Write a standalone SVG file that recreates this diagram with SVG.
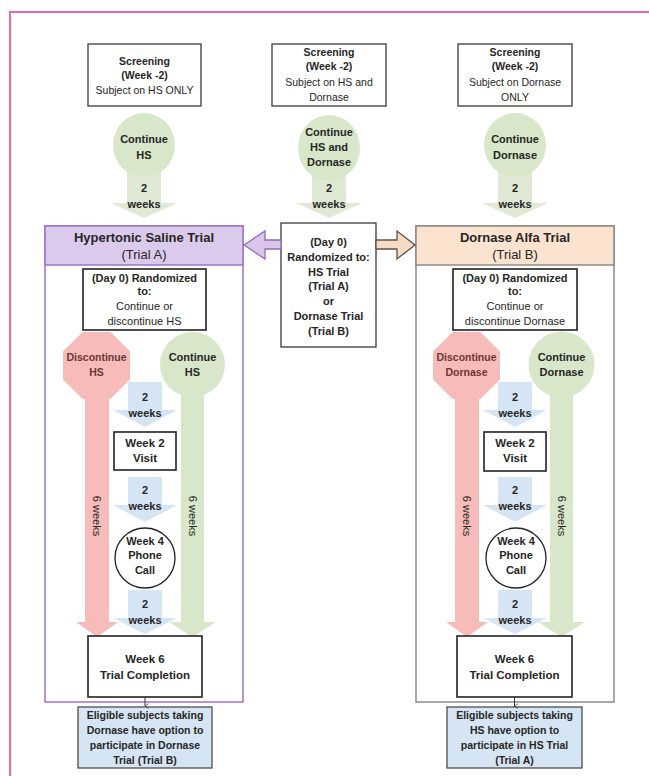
<svg xmlns="http://www.w3.org/2000/svg" width="649" height="776" viewBox="0 0 649 776">
<style>
  text { font-family: "Liberation Sans", Arial, sans-serif; text-anchor: middle; fill: #262626; }
  .b { font-weight: bold; }
  .s105 { font-size: 10.5px; }
  .s11 { font-size: 11px; }
  .s115 { font-size: 11.5px; }
  .s13 { font-size: 13px; }
  .box { fill: #ffffff; stroke: #3a3a3a; stroke-width: 1.3; }
  .dbox { fill: #ffffff; stroke: #222222; stroke-width: 1.6; }
  .green { fill: #d8e6ca; }
  .garrow { fill: #dfe9d3; }
  .red { fill: #f7bcba; }
  .blue { fill: #d6e5f4; }
  .dis { fill: #6e3535; }
  .elig { fill: #d6e5f4; stroke: #4d4d4d; stroke-width: 1.3; }
  .conn { fill: none; stroke: #333333; stroke-width: 1; }
</style>
<defs>
  <marker id="ah" viewBox="0 0 10 10" refX="5" refY="9" markerWidth="8" markerHeight="6" orient="auto-start-reverse" markerUnits="userSpaceOnUse">
    <path d="M1,3 L5,9 L9,3" fill="none" stroke="#333" stroke-width="1.2"/>
  </marker>
</defs>

<rect width="649" height="776" fill="#ffffff"/>
<path d="M10,776 L10,12 L649,12" fill="none" stroke="#e46aac" stroke-width="2"/>

<!-- Screening boxes -->
<g id="screen-hs">
  <rect class="box" x="88" y="44" width="113" height="62"/>
  <text class="b s105" x="144.5" y="65">Screening</text>
  <text class="b s105" x="144.5" y="79">(Week -2)</text>
  <text class="s105" x="144.5" y="94">Subject on HS ONLY</text>
</g>
<g id="screen-both">
  <rect class="box" x="272" y="44" width="114" height="62"/>
  <text class="b s105" x="329" y="56">Screening</text>
  <text class="b s105" x="329" y="70">(Week -2)</text>
  <text class="s105" x="329" y="86">Subject on HS and</text>
  <text class="s105" x="329" y="101">Dornase</text>
</g>
<g id="screen-dor">
  <rect class="box" x="458" y="44" width="114" height="62"/>
  <text class="b s105" x="515" y="56">Screening</text>
  <text class="b s105" x="515" y="70">(Week -2)</text>
  <text class="s105" x="515" y="86">Subject on Dornase</text>
  <text class="s105" x="515" y="101">ONLY</text>
</g>

<!-- Top continue circles with 2-week arrows -->
<g id="cont-hs-top">
  <polygon class="garrow" points="127,170 161,170 161,203 177,203 144,218 111,203 127,203"/>
  <ellipse class="green" cx="144" cy="145" rx="31" ry="32"/>
  <text class="b s11" x="144" y="143">Continue</text>
  <text class="b s11" x="144" y="159">HS</text>
  <text class="b s11" x="144" y="192">2</text>
  <text class="b s11" x="144" y="208">weeks</text>
</g>
<g id="cont-both-top">
  <polygon class="garrow" points="312,172 346,172 346,203 362,203 329,218 296,203 312,203"/>
  <ellipse class="green" cx="329" cy="148" rx="31" ry="33"/>
  <text class="b s11" x="329" y="136">Continue</text>
  <text class="b s11" x="329" y="151">HS and</text>
  <text class="b s11" x="329" y="166">Dornase</text>
  <text class="b s11" x="329" y="192">2</text>
  <text class="b s11" x="329" y="208">weeks</text>
</g>
<g id="cont-dor-top">
  <polygon class="garrow" points="498,170 532,170 532,203 548,203 515,218 482,203 498,203"/>
  <ellipse class="green" cx="515" cy="145" rx="31" ry="32"/>
  <text class="b s11" x="515" y="143">Continue</text>
  <text class="b s11" x="515" y="159">Dornase</text>
  <text class="b s11" x="515" y="192">2</text>
  <text class="b s11" x="515" y="208">weeks</text>
</g>

<!-- Panels -->
<g id="trial-a">
  <rect x="45" y="226" width="198" height="476" fill="#ffffff" stroke="#9b74c4" stroke-width="1.5"/>
  <rect x="45" y="226" width="198" height="39" fill="#dccaec" stroke="#9b74c4" stroke-width="1.5"/>
  <text class="b s13" x="144" y="242">Hypertonic Saline Trial</text>
  <text class="s13" x="144" y="259">(Trial A)</text>
</g>
<g id="trial-b">
  <rect x="416" y="226" width="198" height="476" fill="#ffffff" stroke="#8a8a8a" stroke-width="1.5"/>
  <rect x="416" y="226" width="198" height="39" fill="#fce3cf" stroke="#8a8a8a" stroke-width="1.5"/>
  <text class="b s13" x="515" y="242">Dornase Alfa Trial</text>
  <text class="s13" x="515" y="259">(Trial B)</text>
</g>

<!-- Center randomization box -->
<g id="center-rand">
  <rect class="box" x="281" y="223" width="95" height="124"/>
  <text class="b s11" x="328.5" y="246">(Day 0)</text>
  <text class="b s11" x="328.5" y="261">Randomized to:</text>
  <text class="b s11" x="328.5" y="276">HS Trial</text>
  <text class="b s11" x="328.5" y="290">(Trial A)</text>
  <text class="b s11" x="328.5" y="305">or</text>
  <text class="b s11" x="328.5" y="320">Dornase Trial</text>
  <text class="b s11" x="328.5" y="335">(Trial B)</text>
</g>

<!-- Randomized boxes inside panels -->
<g id="rand-a">
  <rect class="dbox" x="83" y="269" width="123" height="61"/>
  <text class="b s11" x="144.5" y="282">(Day 0) Randomized</text>
  <text class="b s11" x="144.5" y="295">to:</text>
  <text class="s11" x="144.5" y="310">Continue or</text>
  <text class="s11" x="144.5" y="325">discontinue HS</text>
</g>
<g id="rand-b">
  <rect class="dbox" x="453" y="269" width="124" height="61"/>
  <text class="b s11" x="515" y="282">(Day 0) Randomized</text>
  <text class="b s11" x="515" y="295">to:</text>
  <text class="s11" x="515" y="310">Continue or</text>
  <text class="s11" x="515" y="325">discontinue Dornase</text>
</g>

<!-- Trial A arms -->
<g id="disc-hs">
  <polygon class="red" points="85,395 109,395 109,622 118,622 97,637 76,622 85,622"/>
  <polygon class="red" points="82.6,332 110.4,332 130,351.6 130,379.4 110.4,399 82.6,399 63,379.4 63,351.6"/>
  <text class="b s105 dis" x="96.5" y="361">Discontinue</text>
  <text class="b s105 dis" x="96.5" y="376">HS</text>
  <text class="s11" transform="translate(93,516) rotate(90)">6 weeks</text>
</g>
<g id="cont-hs">
  <polygon class="green" points="181,390 204,390 204,622 216,622 192.5,637 169,622 181,622"/>
  <circle class="green" cx="192.5" cy="364.5" r="32.5"/>
  <text class="b s11" x="192.5" y="361">Continue</text>
  <text class="b s11" x="192.5" y="376">HS</text>
  <text class="s11" transform="translate(188.5,516) rotate(90)">6 weeks</text>
</g>

<g id="a-2w-1">
  <polygon class="blue" points="128,382 162,382 162,410 177,410 145,427 113,410 128,410"/>
  <text class="b s11" x="145" y="401">2</text>
  <text class="b s11" x="145" y="417">weeks</text>
</g>
<g id="a-week2">
  <rect class="dbox" x="114" y="432" width="62" height="38"/>
  <text class="b s115" x="145" y="447">Week 2</text>
  <text class="b s115" x="145" y="462">Visit</text>
</g>
<g id="a-2w-2">
  <polygon class="blue" points="128,477 162,477 162,505 177,505 145,522 113,505 128,505"/>
  <text class="b s11" x="145" y="494">2</text>
  <text class="b s11" x="145" y="510">weeks</text>
</g>
<g id="a-week4">
  <circle cx="145" cy="558" r="30" fill="#ffffff" stroke="#222" stroke-width="1.3"/>
  <text class="b s11" x="145" y="545">Week 4</text>
  <text class="b s11" x="145" y="559">Phone</text>
  <text class="b s11" x="145" y="574">Call</text>
</g>
<g id="a-2w-3">
  <polygon class="blue" points="128,590 162,590 162,618 177,618 145,634 113,618 128,618"/>
  <text class="b s11" x="145" y="608">2</text>
  <text class="b s11" x="145" y="624">weeks</text>
</g>
<g id="a-week6">
  <rect class="dbox" x="88" y="636" width="114" height="61"/>
  <text class="b s115" x="145" y="663">Week 6</text>
  <text class="b s115" x="145" y="679">Trial Completion</text>
</g>
<g id="a-eligible">
  <rect class="elig" x="78" y="707" width="134" height="61"/>
  <text class="b s105" x="145" y="719">Eligible subjects taking</text>
  <text class="b s105" x="145" y="734">Dornase have option to</text>
  <text class="b s105" x="145" y="749">participate in Dornase</text>
  <text class="b s105" x="145" y="764">Trial (Trial B)</text>
</g>

<!-- Trial B arms -->
<g id="disc-dor">
  <polygon class="red" points="455,395 479,395 479,622 488,622 467,637 446,622 455,622"/>
  <polygon class="red" points="452.6,332 480.4,332 500,351.6 500,379.4 480.4,399 452.6,399 433,379.4 433,351.6"/>
  <text class="b s105 dis" x="466.5" y="361">Discontinue</text>
  <text class="b s105 dis" x="466.5" y="376">Dornase</text>
  <text class="s11" transform="translate(463,516) rotate(90)">6 weeks</text>
</g>
<g id="cont-dor">
  <polygon class="green" points="550,390 573,390 573,622 585,622 561.5,637 538,622 550,622"/>
  <circle class="green" cx="561.5" cy="364.5" r="33"/>
  <text class="b s11" x="561.5" y="361">Continue</text>
  <text class="b s11" x="561.5" y="376">Dornase</text>
  <text class="s11" transform="translate(557.5,516) rotate(90)">6 weeks</text>
</g>

<g id="b-2w-1">
  <polygon class="blue" points="498,382 532,382 532,410 547,410 515,427 483,410 498,410"/>
  <text class="b s11" x="515" y="401">2</text>
  <text class="b s11" x="515" y="417">weeks</text>
</g>
<g id="b-week2">
  <rect class="dbox" x="484" y="432" width="62" height="39"/>
  <text class="b s115" x="515" y="447">Week 2</text>
  <text class="b s115" x="515" y="462">Visit</text>
</g>
<g id="b-2w-2">
  <polygon class="blue" points="498,477 532,477 532,505 547,505 515,522 483,505 498,505"/>
  <text class="b s11" x="515" y="494">2</text>
  <text class="b s11" x="515" y="510">weeks</text>
</g>
<g id="b-week4">
  <circle cx="516" cy="558" r="30" fill="#ffffff" stroke="#222" stroke-width="1.3"/>
  <text class="b s11" x="516" y="545">Week 4</text>
  <text class="b s11" x="516" y="559">Phone</text>
  <text class="b s11" x="516" y="574">Call</text>
</g>
<g id="b-2w-3">
  <polygon class="blue" points="498,590 532,590 532,618 547,618 515,634 483,618 498,618"/>
  <text class="b s11" x="515" y="608">2</text>
  <text class="b s11" x="515" y="624">weeks</text>
</g>
<g id="b-week6">
  <rect class="dbox" x="457" y="636" width="115" height="61"/>
  <text class="b s115" x="514.5" y="663">Week 6</text>
  <text class="b s115" x="514.5" y="679">Trial Completion</text>
</g>
<g id="b-eligible">
  <rect class="elig" x="447" y="707" width="135" height="61"/>
  <text class="b s105" x="514.5" y="719">Eligible subjects taking</text>
  <text class="b s105" x="514.5" y="734">HS have option to</text>
  <text class="b s105" x="514.5" y="749">participate in HS Trial</text>
  <text class="b s105" x="514.5" y="764">(Trial A)</text>
</g>

<!-- Connectors -->
<g id="connectors">
  <polygon points="244,245 265,231 265,240 281,240 281,249 265,249 265,259" fill="#d9c6ea" stroke="#8e6bb8" stroke-width="1.3" stroke-linejoin="miter"/>
  <polygon points="376,240 397,240 397,231 415,245 397,259 397,249 376,249" fill="#f7dcc5" stroke="#5e5246" stroke-width="1.3"/>
  <line class="conn" x1="145" y1="697" x2="145" y2="706" marker-end="url(#ah)"/>
  <line class="conn" x1="514.5" y1="697" x2="514.5" y2="706" marker-end="url(#ah)"/>
</g>
</svg>
